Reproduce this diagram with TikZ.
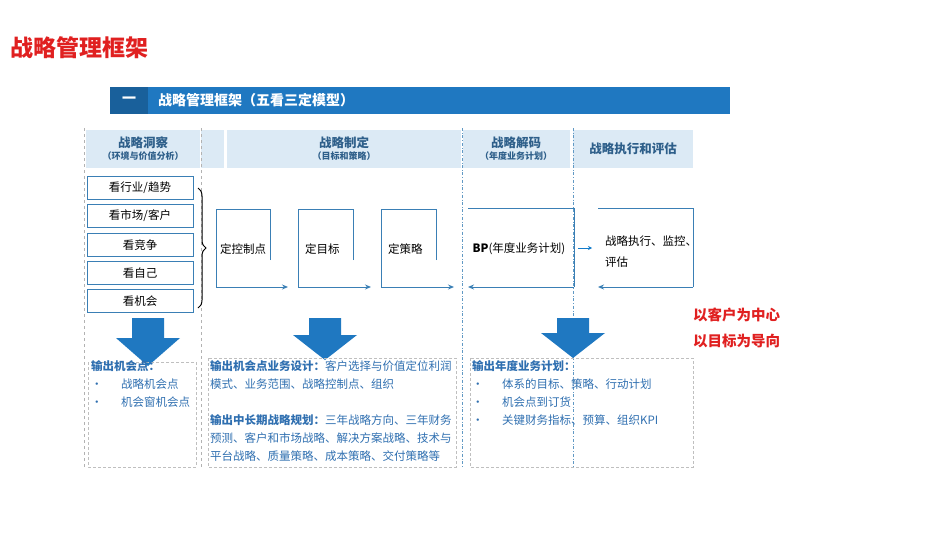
\documentclass[tikz,border=0pt]{standalone}
\usepackage{fontspec}
\setmainfont{Noto Sans CJK SC}
\usetikzlibrary{arrows.meta,decorations.pathreplacing}
\definecolor{bbar}{HTML}{1F78C1}
\definecolor{hdr}{HTML}{DCEAF5}
\definecolor{bline}{HTML}{3A7FB5}
\definecolor{htxt}{HTML}{2E5F8A}
\definecolor{otxt}{HTML}{2F6FB0}
\definecolor{rtxt}{HTML}{E02020}
\begin{document}
\begin{tikzpicture}[x=1pt,y=-1pt,
  hcell/.style={fill=hdr,draw=none,inner sep=0,text=htxt,font=\fontsize{12.5}{15}\selectfont\bfseries,align=center},
  lbox/.style={draw=bline,line width=1pt,minimum width=106pt,minimum height=23pt,inner sep=0,font=\fontsize{11.5}{12}\selectfont},
  brk/.style={draw=bline,line width=1pt},
  arr/.style={draw=bline,line width=1pt,-{Stealth[length=6pt,width=5pt]}},
  txt/.style={font=\fontsize{11.5}{12}\selectfont,anchor=west,inner sep=0},
  otext/.style={font=\fontsize{11.5}{18}\selectfont,anchor=north west,inner sep=0,align=left,text=otxt},
  vdash/.style={draw=gray!60,dashed,line width=0.6pt},
  vdashb/.style={draw=bline!80,dash dot,line width=0.7pt},
  obox/.style={draw=gray!50,densely dashed,line width=0.6pt},
  bigarr/.style={fill=bbar,draw=none}]
\useasboundingbox (0,0) rectangle (950,535);
\node[anchor=west,text=rtxt,font=\fontsize{23}{25}\selectfont\bfseries,inner sep=0] (title) at (10,48) {战略管理框架};
\fill[bbar] (110,87) rectangle (730,114);
\fill[bbar!80!black] (110,87) rectangle (148,114);
\node[text=white,font=\fontsize{14}{15}\selectfont\bfseries] (yi) at (129,100) {一};
\node[anchor=west,text=white,font=\fontsize{14}{15}\selectfont\bfseries,inner sep=0] (bar) at (158,100) {战略管理框架（五看三定模型）};
% headers
\node[hcell,minimum width=114pt,minimum height=38pt] (h1) at (143,149) {战略洞察\\[-3pt]{\fontsize{9}{10}\selectfont（环境与价值分析）}};
\fill[hdr] (201,130) rectangle (224,168);
\node[hcell,minimum width=234pt,minimum height=38pt] (h2) at (344,149) {战略制定\\[-3pt]{\fontsize{9}{10}\selectfont（目标和策略）}};
\node[hcell,minimum width=107pt,minimum height=38pt] (h3) at (516,149) {战略解码\\[-3pt]{\fontsize{9}{10}\selectfont（年度业务计划）}};
\node[hcell,minimum width=120pt,minimum height=38pt] (h4) at (633,149) {战略执行和评估};
% vertical separators
\draw[vdash] (84,128) -- (84,468);
\draw[vdash] (201,128) -- (201,468);
\draw[vdashb] (462,128) -- (462,468);
\draw[vdashb] (573,128) -- (573,468);
% left boxes
\node[lbox] (b1) at (140,187.5) {看行业/趋势};
\node[lbox] (b2) at (140,216) {看市场/客户};
\node[lbox] (b3) at (140,245) {看竞争};
\node[lbox] (b4) at (140,273) {看自己};
\node[lbox] (b5) at (140,301) {看机会};
\draw[line width=1pt,decorate,decoration={brace,amplitude=8pt}] (198,188) -- (198,308);
% brackets
\draw[brk] (270,260) -- (270,209) -- (216,209) -- (216,287);
\draw[arr] (216,287) -- (288,287);
\node[txt] (k1) at (220,249) {定控制点};
\draw[brk] (353,260) -- (353,209) -- (298,209) -- (298,287);
\draw[arr] (298,287) -- (371,287);
\node[txt] (k2) at (305,249) {定目标};
\draw[brk] (436,260) -- (436,209) -- (381,209) -- (381,287);
\draw[arr] (381,287) -- (454,287);
\node[txt] (k3) at (388,249) {定策略};
\draw[brk] (468,208) -- (574,208) -- (574,287);
\draw[arr] (574,287) -- (468,287);
\node[font=\fontsize{11.5}{12}\selectfont] (bp) at (519,249) {\textbf{BP}(年度业务计划)};
\draw[draw=cyan!60!blue,line width=1pt,-{Stealth[length=4pt,width=4pt]}] (578,248) -- (592,248);
\draw[brk] (598,208) -- (693,208) -- (693,287);
\draw[arr] (693,287) -- (598,287);
\node[txt] (e1) at (605,241) {战略执行、监控、};
\node[txt] (e2) at (605,262) {评估};
% red notes
\node[anchor=west,text=rtxt,font=\fontsize{14.5}{15}\selectfont\bfseries,inner sep=0] (r1) at (693,315) {以客户为中心};
\node[anchor=west,text=rtxt,font=\fontsize{14.5}{15}\selectfont\bfseries,inner sep=0] (r2) at (693,341) {以目标为导向};
% big arrows
\foreach \cx/\ya/\yb/\yc in {148/318/338/366, 325/318/335/360, 573/318/333/358}{
  \fill[bigarr] (\cx-16,\ya) -- (\cx+16,\ya) -- (\cx+16,\yb) -- (\cx+32,\yb) -- (\cx,\yc) -- (\cx-32,\yb) -- (\cx-16,\yb) -- cycle;
}
% output boxes
\draw[obox] (88,362) rectangle (196,467);
\draw[obox] (208,358) rectangle (456,467);
\draw[obox] (470,358) rectangle (693,467);
\node[otext] (o1) at (91,360) {\textbf{输出机会点：}\\ •\hspace{1.6em}战略机会点\\ •\hspace{1.6em}机会窗机会点};
\node[otext] (o2) at (210,360) {\textbf{输出机会点业务设计：}客户选择与价值定位利润\\ 模式、业务范围、战略控制点、组织\\[18pt] \textbf{输出中长期战略规划：}三年战略方向、三年财务\\ 预测、客户和市场战略、解决方案战略、技术与\\ 平台战略、质量策略、成本策略、交付策略等};
\node[otext] (o3) at (472,360) {\textbf{输出年度业务计划：}\\ •\hspace{1.6em}体系的目标、策略、行动计划\\ •\hspace{1.6em}机会点到订货\\ •\hspace{1.6em}关键财务指标、预算、组织KPI};
\end{tikzpicture}
\end{document}
